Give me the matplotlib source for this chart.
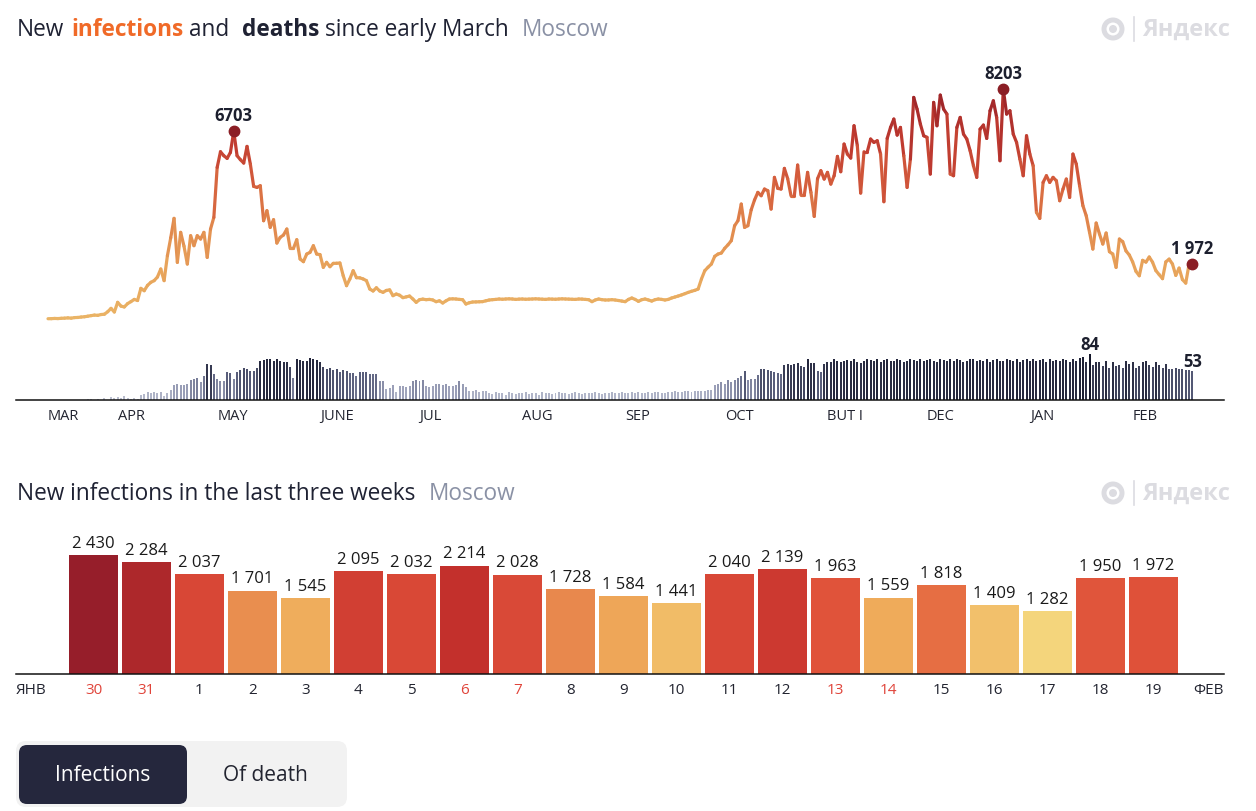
import datetime as dt
import matplotlib
matplotlib.use('Agg')
import matplotlib.pyplot as plt
import numpy as np
from matplotlib.collections import LineCollection
from matplotlib.colors import LinearSegmentedColormap, Normalize
from matplotlib.patches import FancyBboxPatch, Circle

plt.rcParams['font.family'] = ['Open Sans', 'DejaVu Sans']

start = dt.date(2020, 3, 11)

# new infections per day, Moscow
cases_mar = [10, 12, 20, 15, 25, 30, 40, 30, 50, 55, 70, 80, 100, 120, 140, 130, 160, 170, 260, 380, 250]
cases_apr = [595, 460, 430, 550, 620, 700, 660, 1095, 1010, 1200, 1310, 1370, 1500, 1785, 1370,
             2260, 2900, 3594, 2023, 3094, 2600, 1963, 2975, 2618, 2975, 2856, 3094, 2201, 3213, 3630]
cases_may = [5414, 5974, 5832, 5736, 5950, 6703, 5832, 5690, 5570, 6164, 5533, 4736, 4700, 4760, 3510, 3868,
             3272, 3546, 2713, 2915, 3000, 3213, 2523, 2523, 2832, 2142, 2047, 2320, 2380, 2618, 2320]
cases_jun = [2300, 1845, 2023, 1868, 1987, 1990, 2000, 1547, 1190, 1428, 1725, 1475, 1470, 1430, 1370,
             1071, 1000, 1115, 1000, 952, 1020, 1040, 833, 892, 850, 762, 790, 820, 714, 595]
cases_jul = [690, 710, 690, 700, 680, 618, 650, 571, 650, 714, 720, 714, 700, 690, 535, 580, 607, 610, 615,
             620, 650, 678, 690, 700, 714, 705, 714, 720, 714, 700, 710]
cases_aug = [714, 705, 710, 714, 720, 714, 708, 700, 714, 710, 705, 714, 720, 714, 710, 705, 700, 714, 710,
             700, 690, 619, 680, 714, 690, 678, 680, 690, 678, 660, 640]
cases_sep = [619, 700, 750, 700, 630, 690, 714, 680, 640, 690, 714, 700, 678, 700, 750, 785, 821, 860, 904,
             950, 990, 1023, 1071, 1428, 1725, 1850, 1963, 2237, 2320, 2356]
cases_oct = [2523, 2650, 2797, 3332, 3510, 4105, 3272, 3332, 3900, 4250, 4522, 4403, 4641, 4582, 3927, 5058,
             4665, 4641, 5379, 5010, 4403, 4403, 5498, 4427, 4427, 5236, 4522, 3665, 5010, 5296, 4998]
cases_nov = [5236, 4819, 5117, 5807, 5260, 6248, 5890, 5748, 6902, 6188, 4498, 5974, 5974, 6426, 6307, 6366,
             5890, 4189, 6450, 6842, 7140, 6569, 6842, 5831, 4700, 5712, 7913, 7497, 6962, 6545]
cases_dec = [6488, 5177, 7735, 6902, 7997, 7497, 7319, 5177, 5117, 6842, 7200, 6605, 6426, 6010, 5474, 5058,
             6783, 6926, 6450, 7437, 7794, 7200, 5652, 8203, 7319, 7437, 6605, 6307, 5712, 5117, 6545]
cases_jan = [5890, 5474, 3808, 3594, 4879, 5117, 4879, 5058, 4938, 4224, 4641, 4998, 4343, 5890, 5534, 4760,
             4046, 3689, 3094, 2499, 3427, 3034, 2678, 3070, 2404, 2320, 1844, 2856, 2761, 2430, 2284]
cases_feb = [2037, 1701, 1545, 2095, 2032, 2214, 2028, 1728, 1584, 1441, 2040, 2139, 1963, 1559, 1818, 1409,
             1282, 1950, 1972]

# deaths per day
deaths_mar = [0, 0, 0, 0, 0, 0, 0, 0, 0, 0, 0, 0, 1, 1, 0, 2, 0, 3, 0, 5, 4]
deaths_apr = [6, 4, 8, 3, 2, 4, 2, 10, 11, 14, 12, 14, 13, 15, 8, 12, 18, 28, 29, 28, 28, 29, 37, 38, 40, 32,
              43, 66, 64, 47]
deaths_may = [38, 35, 35, 51, 50, 38, 51, 55, 58, 56, 53, 53, 58, 72, 73, 74, 75, 72, 74, 72, 70, 69, 60, 41,
              74, 73, 72, 72, 76, 74, 73]
deaths_jun = [69, 60, 57, 58, 55, 56, 51, 55, 53, 49, 50, 44, 51, 51, 51, 48, 47, 47, 34, 34, 20, 22, 27, 14,
              25, 25, 24, 25, 35, 37]
deaths_jul = [35, 36, 25, 24, 25, 29, 30, 28, 30, 25, 25, 28, 35, 29, 23, 16, 16, 19, 15, 16, 16, 13, 11, 14,
              12, 13, 10, 14, 12, 11, 13]
deaths_aug = [12, 14, 11, 13, 12, 10, 14, 12, 13, 11, 12, 14, 13, 12, 11, 13, 14, 12, 11, 12, 13, 12, 14, 12,
              11, 13, 12, 14, 13, 12, 14]
deaths_sep = [13, 12, 14, 13, 15, 12, 13, 14, 12, 15, 14, 13, 12, 15, 14, 16, 15, 14, 16, 17, 15, 16, 17, 16,
              17, 18, 19, 27, 30, 33]
deaths_oct = [30, 36, 33, 36, 40, 44, 53, 36, 38, 38, 45, 57, 57, 55, 53, 51, 50, 48, 63, 66, 64, 66, 68, 62,
              60, 74, 68, 68, 53, 51, 66]
deaths_nov = [69, 69, 74, 72, 70, 71, 73, 72, 75, 70, 68, 72, 74, 73, 71, 75, 70, 73, 74, 72, 71, 74, 73, 70,
              72, 75, 73, 71, 74, 72]
deaths_dec = [73, 75, 72, 70, 74, 73, 71, 75, 72, 74, 73, 70, 72, 74, 75, 71, 73, 72, 74, 70, 73, 75, 72, 71,
              74, 73, 72, 75, 70, 73, 74]
deaths_jan = [72, 74, 71, 73, 75, 70, 74, 72, 73, 71, 75, 73, 70, 74, 72, 77, 79, 69, 84, 64, 70, 69, 62, 72,
              59, 70, 62, 63, 59, 72, 66]
deaths_feb = [69, 59, 62, 69, 72, 63, 60, 70, 64, 59, 66, 57, 57, 58, 56, 57, 55, 54, 53]

month_labels = ['MAR', 'APR', 'MAY', 'JUNE', 'JUL', 'AUG', 'SEP', 'OCT', 'BUT I', 'DEC', 'JAN', 'FEB']
first_month = 'ЯНВ'
last_month = 'ФЕВ'

cases = np.array(cases_mar + cases_apr + cases_may + cases_jun + cases_jul + cases_aug + cases_sep +
                 cases_oct + cases_nov + cases_dec + cases_jan + cases_feb, dtype=float)
deaths = np.array(deaths_mar + deaths_apr + deaths_may + deaths_jun + deaths_jul + deaths_aug + deaths_sep +
                  deaths_oct + deaths_nov + deaths_dec + deaths_jan + deaths_feb, dtype=float)
days = np.arange(len(cases))
dates = [start + dt.timedelta(days=int(i)) for i in days]


def fmt(v):
    return f"{int(v):,}".replace(',', ' ')


W, H = 1256, 812
fig = plt.figure(figsize=(W / 100, H / 100), dpi=100)


def box(x0, y0, x1, y1):
    return [x0 / W, 1 - y1 / H, (x1 - x0) / W, (y1 - y0) / H]


# background axes in pixel coords for titles, logos, buttons
bg = fig.add_axes([0, 0, 1, 1])
bg.set_xlim(0, W)
bg.set_ylim(H, 0)
bg.axis('off')

DARK = '#1f2233'
GRAY = '#8a91a5'
r = fig.canvas.get_renderer()


def title(y, parts, x=17, size=16.3):
    for txt, color, weight, gap in parts:
        t = bg.text(x, y, txt, color=color, fontweight=weight, fontsize=size, va='center', ha='left')
        x += t.get_window_extent(r).width + gap


title(30, [('New', DARK, 'normal', 7), ('infections', '#f06a28', 'bold', 6), ('and', DARK, 'normal', 12),
           ('deaths', DARK, 'bold', 6), ('since early March', DARK, 'normal', 13), ('Moscow', GRAY, 'normal', 0)])
title(494, [('New infections in the last three weeks', DARK, 'normal', 13), ('Moscow', GRAY, 'normal', 0)])


def logo(y):
    c = '#dcdce1'
    bg.add_patch(Circle((1113, y), 11.5, fc=c, ec='none'))
    bg.add_patch(Circle((1113, y), 6.5, fc='white', ec='none'))
    bg.add_patch(Circle((1113, y), 4, fc=c, ec='none'))
    bg.plot([1134, 1134], [y - 12, y + 12], color=c, lw=1.2)
    bg.text(1142, y, 'Яндекс', color=c, fontsize=17, va='center', ha='left', fontweight='bold',
            fontstretch='condensed')


logo(30)
logo(494)

# buttons
bg.add_patch(FancyBboxPatch((16, 742), 331, 66, boxstyle='round,pad=0,rounding_size=10', fc='#f2f2f2', ec='none'))
bg.add_patch(FancyBboxPatch((19, 746), 168, 59, boxstyle='round,pad=0,rounding_size=8', fc='#25273d', ec='none'))
bg.text(103, 776, 'Infections', color='white', fontsize=15, ha='center', va='center')
bg.text(265, 776, 'Of death', color='#222430', fontsize=15, ha='center', va='center')

# ---- infections line ----
xlim = ((16 - 48) / 3.317, (1224 - 48) / 3.317)
ax = fig.add_axes(box(16, 60, 1224, 330))
ax.set_xlim(*xlim)
ax.set_ylim(-(330 - 320) / 0.028, (320 - 60) / 0.028)
ax.axis('off')

line_cmap = LinearSegmentedColormap.from_list('inf', [(0, '#eab466'), (0.25, '#e7a159'), (0.45, '#df8049'),
                                                      (0.6, '#d45c3c'), (0.78, '#bf3a30'), (1, '#962027')])
pts = np.column_stack([days, cases])
segs = np.stack([pts[:-1], pts[1:]], axis=1)
lc = LineCollection(segs, cmap=line_cmap, norm=Normalize(0, cases.max()), linewidths=2.3,
                    capstyle='round', joinstyle='round')
lc.set_array((cases[:-1] + cases[1:]) / 2)
ax.add_collection(lc)

i_max1 = int(np.argmax(cases[:150]))
i_max2 = int(np.argmax(cases))
i_last = len(cases) - 1
for i in (i_max1, i_max2, i_last):
    ax.plot(days[i], cases[i], 'o', color='#8b1e25', ms=7.5, zorder=5, clip_on=False)
    ax.annotate(fmt(cases[i]) if i == i_last else str(int(cases[i])), (days[i], cases[i]),
                xytext=(0, 5), textcoords='offset points', ha='center', va='bottom',
                fontsize=12, fontweight='bold', color='#1c1f2e', annotation_clip=False)

# ---- deaths bars ----
axd = fig.add_axes(box(16, 335, 1224, 401))
axd.set_xlim(*xlim)
axd.set_ylim(0, (401 - 335) / 0.548)
death_cmap = LinearSegmentedColormap.from_list('d', [(0, '#c3c7d6'), (0.35, '#979cb5'), (0.6, '#5b607d'),
                                                     (0.8, '#30334a'), (1, '#15172a')])
dnorm = Normalize(0, deaths.max())
axd.bar(days, deaths, width=0.6, color=death_cmap(dnorm(deaths)), zorder=2)
for s in ('top', 'right', 'left'):
    axd.spines[s].set_visible(False)
axd.spines['bottom'].set_color('#111111')
axd.spines['bottom'].set_linewidth(1.1)
axd.set_xticks([])
axd.set_yticks([])
axd.patch.set_alpha(0)

j_max = int(np.argmax(deaths))
for j in (j_max, i_last):
    axd.annotate(str(int(deaths[j])), (days[j], deaths[j]), xytext=(0, 1), textcoords='offset points',
                 ha='center', va='bottom', fontsize=12, fontweight='bold', color='#1c1f2e',
                 annotation_clip=False)

ylab = -(417 - 401) / 0.548
for k, name in enumerate(month_labels):
    m = (start.month - 1 + k) % 12 + 1
    yr = start.year + (start.month - 1 + k) // 12
    pos = 0 if k == 0 else (dt.date(yr, m, 1) - start).days
    axd.text(pos, ylab, name, ha='left', va='center', fontsize=10.5, color='#222430', clip_on=False)

# ---- last three weeks ----
week = cases[-21:]
week_dates = dates[-21:]
axb = fig.add_axes(box(16, 530, 1224, 675))
axb.set_xlim((16 - 93.5) / 52.98, (1224 - 93.5) / 52.98)
axb.set_ylim(0, (675 - 530) / 0.049)
bar_cmap = LinearSegmentedColormap.from_list('w', [(0, '#f4d57c'), (0.11, '#f2c06b'), (0.24, '#efab5a'),
                                                   (0.39, '#e8884d'), (0.47, '#e66d43'), (0.59, '#e0533a'),
                                                   (0.66, '#d84736'), (0.81, '#c4302c'), (0.87, '#ae282b'),
                                                   (1, '#961e2a')])
wnorm = Normalize(week.min(), week.max())
xb = np.arange(len(week))
axb.bar(xb, week, width=0.925, color=bar_cmap(wnorm(week)), zorder=2)
for s in ('top', 'right', 'left'):
    axb.spines[s].set_visible(False)
axb.spines['bottom'].set_color('#111111')
axb.spines['bottom'].set_linewidth(1.1)
axb.set_xticks([])
axb.set_yticks([])
axb.patch.set_alpha(0)
yday = -(691 - 675) / 0.049
for i, v in enumerate(week):
    axb.annotate(fmt(v), (xb[i], v), xytext=(0, 3), textcoords='offset points', ha='center', va='bottom',
                 fontsize=12, color='#1a1a1a')
    d = week_dates[i]
    axb.text(xb[i], yday, str(d.day), ha='center', va='center', fontsize=11,
             color='#e0443a' if d.weekday() >= 5 else '#222430', clip_on=False)
axb.text(-1.46, yday, first_month, ha='left', va='center', fontsize=11, color='#222430', clip_on=False)
axb.text(21.34, yday, last_month, ha='right', va='center', fontsize=11, color='#222430', clip_on=False)

fig.savefig('out.png', dpi=100)
